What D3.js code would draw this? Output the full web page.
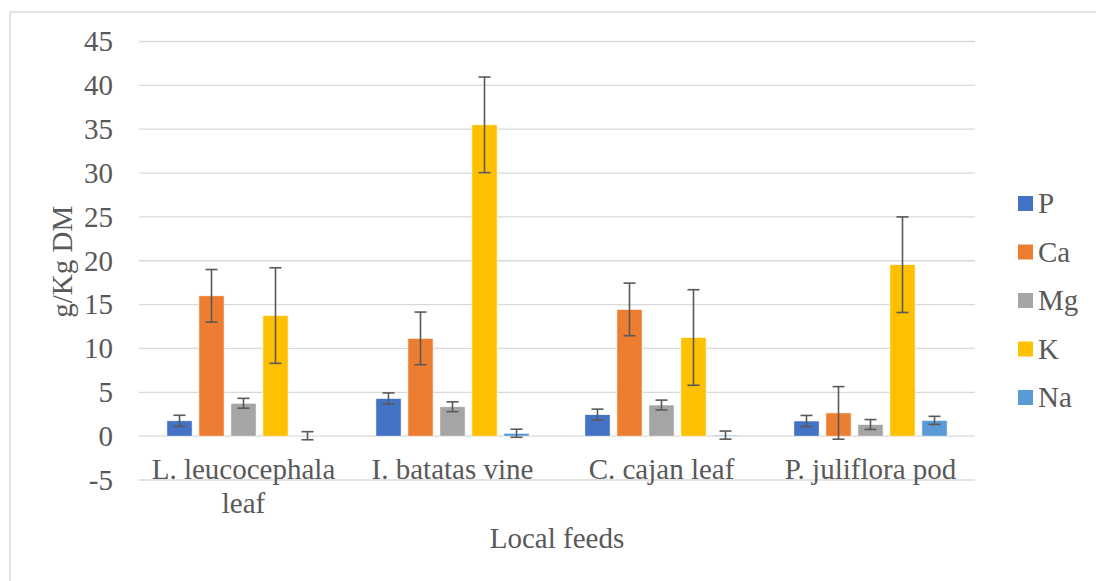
<!DOCTYPE html>
<html>
<head>
<meta charset="utf-8">
<script src="https://cdn.jsdelivr.net/npm/d3@7"></script>
<style>
  html, body { margin: 0; padding: 0; background: #fff; }
  svg { display: block; }
  text { font-family: "Liberation Serif", "Times New Roman", serif; fill: #595959; }
</style>
</head>
<body>
<svg id="chart" width="1096" height="581"></svg>
<script>
// ---- data ----
const categories = ["L. leucocephala leaf", "I. batatas vine", "C. cajan leaf", "P. juliflora pod"];
const seriesNames = ["P", "Ca", "Mg", "K", "Na"];
const seriesColors = ["#4472C4", "#ED7D31", "#A5A5A5", "#FFC000", "#5B9BD5"];
const P  = [1.75, 4.30, 2.45, 1.73];
const Ca = [16.0, 11.15, 14.45, 2.65];
const Mg = [3.75, 3.35, 3.55, 1.33];
const K  = [13.75, 35.5, 11.25, 19.55];
const Na = [0.05, 0.33, 0.12, 1.80];
const errP = 0.63, errCa = 3.0, errMg = 0.56, errK = 5.45, errNa = 0.46;
const yTicks = [-5, 0, 5, 10, 15, 20, 25, 30, 35, 40, 45];
const yTitle = "g/Kg DM";
const xTitle = "Local feeds";

const seriesValues = [P, Ca, Mg, K, Na];
const seriesErrors = [errP, errCa, errMg, errK, errNa];

// ---- layout ----
const svg = d3.select("#chart");
const plotLeft = 139, plotRight = 975, plotTop = 41.5, plotBottom = 480;
const fontSize = 29;

// chart border
svg.append("rect")
  .attr("x", 10).attr("y", 12).attr("width", 1200).attr("height", 700)
  .attr("fill", "none").attr("stroke", "#d9d9d9").attr("stroke-width", 1.5);

const y = d3.scaleLinear().domain([-5, 45]).range([plotBottom, plotTop]);
const x0 = d3.scaleBand().domain(categories).range([plotLeft, plotRight])
  .paddingInner(0.267).paddingOuter(0.1335);
const x1 = d3.scaleBand().domain(seriesNames).range([0, x0.bandwidth()])
  .paddingInner(0.2125).paddingOuter(0);

// gridlines
svg.append("g").selectAll("line").data(yTicks).join("line")
  .attr("x1", plotLeft).attr("x2", plotRight)
  .attr("y1", d => y(d)).attr("y2", d => y(d))
  .attr("stroke", "#d9d9d9").attr("stroke-width", 1.3);

// y tick labels
svg.append("g").selectAll("text").data(yTicks).join("text")
  .attr("x", 113).attr("y", d => y(d)).attr("dy", "0.34em")
  .attr("text-anchor", "end").attr("font-size", fontSize)
  .text(d => d);

// bars
const data = [];
categories.forEach((c, ci) => {
  seriesNames.forEach((s, si) => {
    data.push({ cat: c, ser: s, v: seriesValues[si][ci], e: seriesErrors[si], color: seriesColors[si] });
  });
});

svg.append("g").selectAll("rect").data(data).join("rect")
  .attr("x", d => x0(d.cat) + x1(d.ser))
  .attr("width", x1.bandwidth())
  .attr("y", d => y(Math.max(0, d.v)))
  .attr("height", d => Math.abs(y(d.v) - y(0)))
  .attr("fill", d => d.color)
  .attr("stroke", "#ffffff").attr("stroke-width", 0.6);

// error bars
const eg = svg.append("g").attr("stroke", "#595959").attr("stroke-width", 1.6).attr("fill", "none");
data.forEach(d => {
  const cx = x0(d.cat) + x1(d.ser) + x1.bandwidth() / 2;
  const yHi = y(d.v + d.e), yLo = y(d.v - d.e);
  eg.append("line").attr("x1", cx).attr("x2", cx).attr("y1", yHi).attr("y2", yLo);
  eg.append("line").attr("x1", cx - 6).attr("x2", cx + 6).attr("y1", yHi).attr("y2", yHi);
  eg.append("line").attr("x1", cx - 6).attr("x2", cx + 6).attr("y1", yLo).attr("y2", yLo);
});

// category labels with wrapping
const catG = svg.append("g");
categories.forEach(c => {
  const t = catG.append("text")
    .attr("x", x0(c) + x0.bandwidth() / 2).attr("y", 479)
    .attr("text-anchor", "middle").attr("font-size", fontSize);
  const words = c.split(" ");
  const maxW = x0.step() - 4;
  let line = [];
  let tspan = t.append("tspan").attr("x", x0(c) + x0.bandwidth() / 2).attr("dy", 0);
  words.forEach(w => {
    line.push(w);
    tspan.text(line.join(" "));
    if (tspan.node().getComputedTextLength() > maxW && line.length > 1) {
      line.pop();
      tspan.text(line.join(" "));
      line = [w];
      tspan = t.append("tspan").attr("x", x0(c) + x0.bandwidth() / 2).attr("dy", 34).text(w);
    }
  });
});

// axis titles
svg.append("text")
  .attr("x", (plotLeft + plotRight) / 2).attr("y", 548)
  .attr("text-anchor", "middle").attr("font-size", fontSize)
  .text(xTitle);

svg.append("text")
  .attr("transform", `translate(72, ${(plotTop + plotBottom) / 2 + 1}) rotate(-90)`)
  .attr("text-anchor", "middle").attr("font-size", fontSize)
  .text(yTitle);

// legend
const lg = svg.append("g");
seriesNames.forEach((s, i) => {
  const cy = 203.5 + i * 48.5;
  lg.append("rect").attr("x", 1018).attr("y", cy - 7.5).attr("width", 15).attr("height", 15)
    .attr("fill", seriesColors[i]);
  lg.append("text").attr("x", 1038).attr("y", cy).attr("dy", "0.33em")
    .attr("font-size", fontSize).text(s);
});
</script>
</body>
</html>
